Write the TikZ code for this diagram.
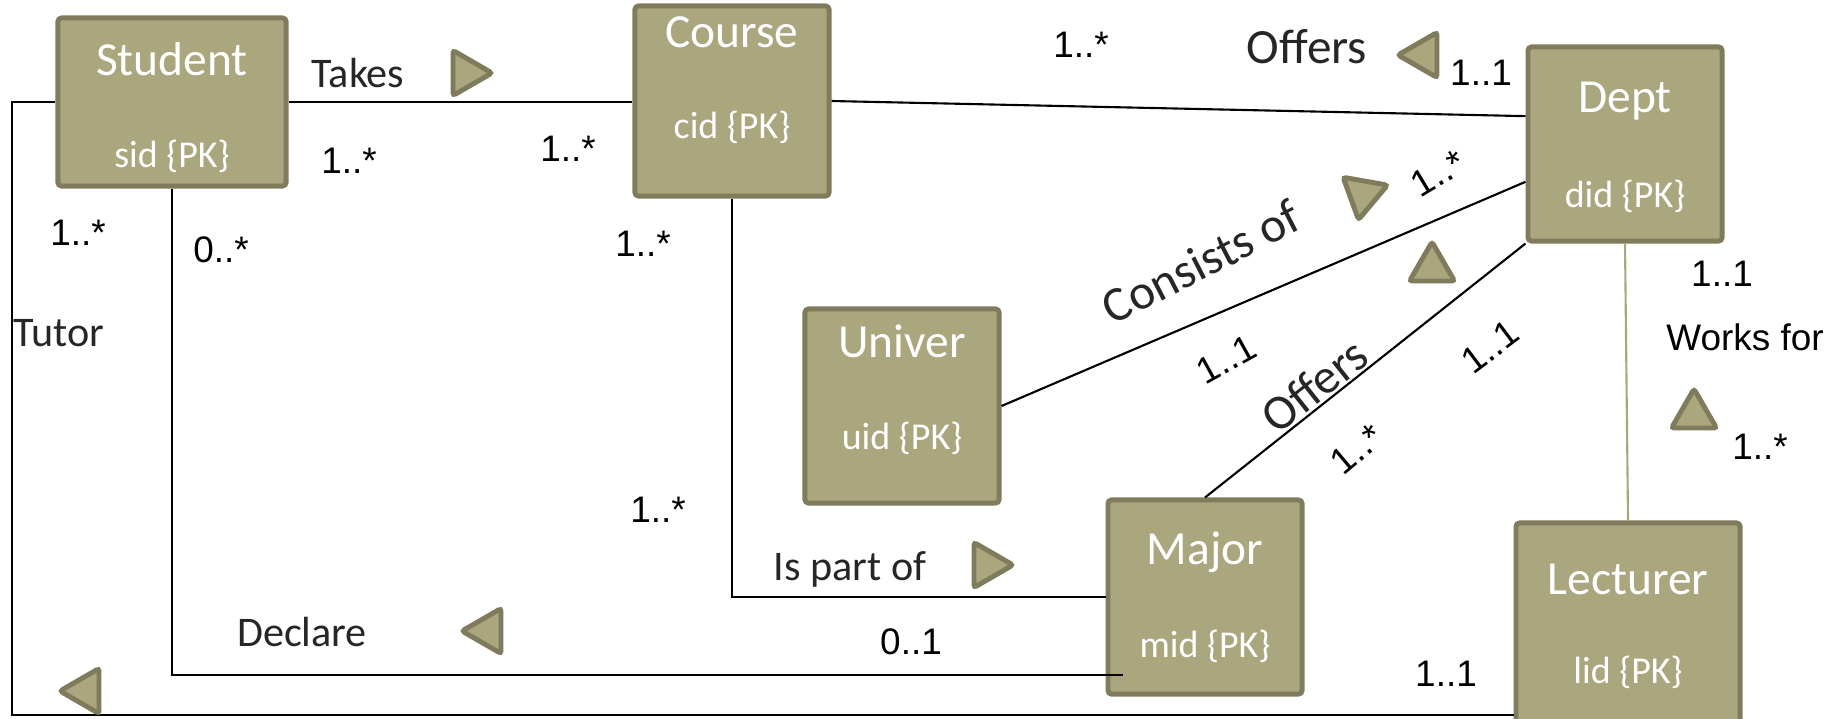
\documentclass[tikz,border=0pt]{standalone}
\usepackage{fontspec}
\setmainfont{Carlito}
\newfontfamily\arialfont{Liberation Sans}
\usetikzlibrary{shapes.geometric,calc}

\begin{document}
\begin{tikzpicture}[x=0.01cm,y=-0.01cm,
	entity/.style={draw=boxdark, fill=boxfill, line width=1.4pt, rounded corners=1pt, inner sep=0pt},
	etitle/.style={text=white, font=\fontsize{13.5}{16}\selectfont},
	eattr/.style={text=white, font=\fontsize{10.8}{13}\selectfont},
	rel/.style={text=textdark, font=\fontsize{12}{14}\selectfont},
	relbig/.style={text=textdark, font=\fontsize{14}{17}\selectfont},
	mult/.style={font=\arialfont\fontsize{10.5}{12}\selectfont},
	dirtri/.style={regular polygon, regular polygon sides=3, draw=boxdark, fill=boxfill, line width=1.4pt, rounded corners=0.8pt, minimum size=0.52cm, inner sep=0pt},
	conn/.style={line width=0.6pt}]
	
	% Farben
	\definecolor{boxfill}{RGB}{170, 166, 126}
	\definecolor{boxdark}{RGB}{127, 123, 92}
	\definecolor{textdark}{RGB}{38, 38, 38}
	
	% Bildgröße (1 Einheit = 1 Pixel)
	\useasboundingbox (0,0) rectangle (1843,718);
	\clip (0,0) rectangle (1843,718);
	
	% Entitäten
	\node[entity, minimum width=2.28cm, minimum height=1.68cm] (student) at (172,102) {};
	\node[entity, minimum width=1.94cm, minimum height=1.90cm] (course) at (732,101) {};
	\node[entity, minimum width=1.94cm, minimum height=1.94cm] (dept) at (1625,144) {};
	\node[entity, minimum width=1.94cm, minimum height=1.94cm] (univer) at (902,406) {};
	\node[entity, minimum width=1.94cm, minimum height=1.94cm] (major) at (1205,597) {};
	\node[entity, minimum width=2.24cm, minimum height=2.06cm] (lecturer) at (1628,626) {};
	
	% Namen + Schlüssel
	\node[etitle] (studentname) at (172,59) {Student};
	\node[eattr] (studentkey) at (172,156) {sid \{PK\}};
	\node[etitle] (coursename) at (732,32) {Course};
	\node[eattr] (coursekey) at (732,127) {cid \{PK\}};
	\node[etitle] (deptname) at (1625,101) {Dept};
	\node[eattr] (deptkey) at (1625,196) {did \{PK\}};
	\node[etitle] (univername) at (902,341) {Univer};
	\node[eattr] (univerkey) at (902,438) {uid \{PK\}};
	\node[etitle] (majorname) at (1205,552) {Major};
	\node[eattr] (majorkey) at (1205,646) {mid \{PK\}};
	\node[etitle] (lecturername) at (1628,579) {Lecturer};
	\node[eattr] (lecturerkey) at (1628,672) {lid \{PK\}};
	
	% Beziehungslinien
	\draw[conn] (student.east) -- (student.east -| course.west);
	\draw[conn] (course.east) -- ($(dept.north west)!0.36!(dept.south west)$);
	\draw[conn] (univer.east) -- ($(dept.north west)!0.69!(dept.south west)$);
	\draw[conn] (major.north) -- node[relbig, pos=0.38, sloped, above, inner sep=0.5pt] (offersmajor) {Offers} (dept.south west);
	\draw[line width=0.6pt, boxfill] (dept.south) -- (lecturer.north);
	\draw[conn] (course.south) |- (major.west);
	\draw[conn] (student.south) |- ($(major.north west)!0.89!(major.south west)+(17,0)$);
	\coordinate (tutorcorner) at (12,715);
	\draw[conn] (student.west) -| (tutorcorner) -- (tutorcorner -| lecturer.west);
	
	% Beziehungsnamen + Leserichtung
	\node[rel] (takes) at (358,73) {Takes};
	\node[dirtri, shape border rotate=-90] (takesdir) at (466,73) {};
	\node[relbig] (offerscourse) at (1307,47) {Offers};
	\node[dirtri, shape border rotate=90] (offerscoursedir) at (1424,55) {};
	\node[relbig, rotate=27] (consists) at (1201,262) {Consists of};
	\node[dirtri, shape border rotate=-70] (consistsdir) at (1363,194) {};
	\node[dirtri] (offersmajordir) at (1432,268) {};
	\node[mult] (worksfor) at (1745,337) {Works for};
	\node[dirtri] (worksfordir) at (1694,415) {};
	\node[rel] (ispartof) at (850,569) {Is part of};
	\node[dirtri, shape border rotate=-90] (ispartofdir) at (987,565) {};
	\node[rel] (declare) at (302,632) {Declare};
	\node[dirtri, shape border rotate=90] (declaredir) at (488,631) {};
	\node[rel] (tutor) at (59,333) {Tutor};
	\node[dirtri, shape border rotate=90] (tutordir) at (86,691) {};
	
	% Kardinalitäten
	\node[mult] (m1) at (349,161) {1..*};
	\node[mult] (m2) at (568,149) {1..*};
	\node[mult] (m3) at (1081,45) {1..*};
	\node[mult] (m4) at (1481,73) {1..1};
	\node[mult, rotate=31] (m5) at (1438,173) {1..*};
	\node[mult, rotate=29] (m6) at (1226,359) {1..1};
	\node[mult, rotate=37] (m7) at (1490,347) {1..1};
	\node[mult, rotate=40] (m8) at (1357,449) {1..*};
	\node[mult] (m9) at (1722,274) {1..1};
	\node[mult] (m10) at (1760,447) {1..*};
	\node[mult] (m11) at (643,244) {1..*};
	\node[mult] (m12) at (658,510) {1..*};
	\node[mult] (m13) at (911,642) {0..1};
	\node[mult] (m14) at (78,233) {1..*};
	\node[mult] (m15) at (221,250) {0..*};
	\node[mult] (m16) at (1446,674) {1..1};
\end{tikzpicture}
\end{document}
